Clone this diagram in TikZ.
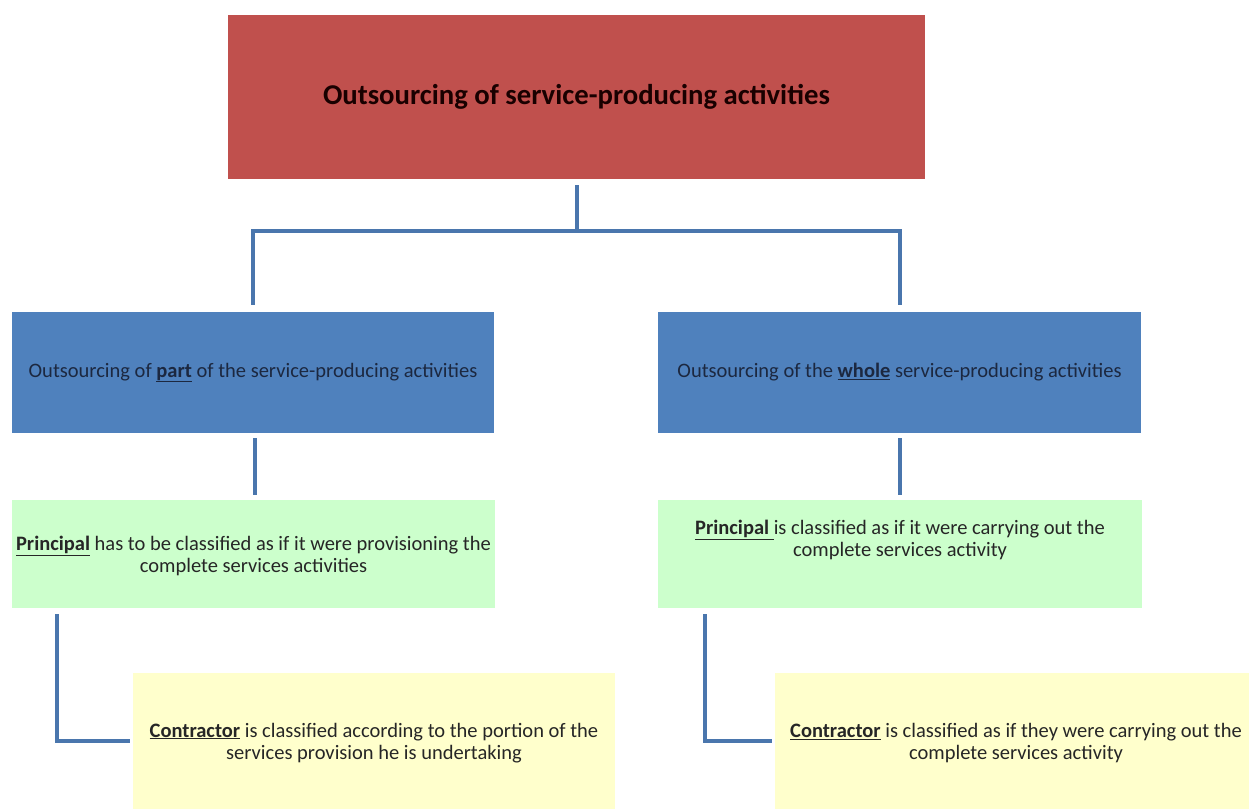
\documentclass[tikz,border=0pt]{standalone}
\usepackage{fontspec}
\setmainfont{Carlito}
\definecolor{redbox}{HTML}{C0504D}
\definecolor{bluebox}{HTML}{4F81BD}
\definecolor{greenbox}{HTML}{CCFFCC}
\definecolor{yellowbox}{HTML}{FFFFCC}
\definecolor{connc}{HTML}{4A76AD}
\definecolor{navytext}{HTML}{1C2840}
\begin{document}
\begin{tikzpicture}[x=1pt,y=-1pt,
  box/.style={rectangle, inner sep=0pt, align=center, font=\fontsize{20.5}{23}\selectfont},
  txt/.style={text=black!85, align=center, inner sep=0pt, font=\fontsize{20.5}{22.5}\selectfont},
  conn/.style={draw=connc, line width=4pt}]
\useasboundingbox (0,0) rectangle (1250,809);
\fill[white] (0,0) rectangle (1250,809);
\node[box, fill=redbox, minimum width=697pt, minimum height=164pt, font=\bfseries\fontsize{28.7}{32}\selectfont, text=black!90!red] (top) at (576.5,97) {Outsourcing of service-producing activities};
\node[box, fill=bluebox, minimum width=482pt, minimum height=121pt, text=navytext] (bl) at (253,372.5) {Outsourcing of \underline{\textbf{part}} of the service-producing activities};
\node[box, fill=bluebox, minimum width=483pt, minimum height=121pt, text=navytext] (br) at (899.5,372.5) {Outsourcing of the \underline{\textbf{whole}} service-producing activities};
\node[box, fill=greenbox, minimum width=483pt, minimum height=108pt] (gl) at (253.5,554) {};
\node[txt] (glt) at (253.5,556) {\underline{\textbf{Principal}} has to be classified as if it were provisioning the\\complete services activities};
\node[box, fill=greenbox, minimum width=484pt, minimum height=108pt] (gr) at (900,554) {};
\node[txt] (grt) at (900,540) {\underline{\textbf{Principal }}is classified as if it were carrying out the\\complete services activity};
\node[box, fill=yellowbox, minimum width=482pt, minimum height=136pt] (yl) at (374,741) {};
\node[txt] (ylt) at (374,743) {\underline{\textbf{Contractor}} is classified according to the portion of the\\services provision he is undertaking};
\node[box, fill=yellowbox, minimum width=474pt, minimum height=136pt] (yr) at (1012,741) {};
\node[txt] (yrt) at (1016,743) {\underline{\textbf{Contractor}} is classified as if they were carrying out the\\complete services activity};
\coordinate (hj) at (576,231);
\coordinate (lx) at (57,0);
\coordinate (rx) at (705,0);
\coordinate (lm) at (255,0);
\coordinate (rm) at (900,0);
\draw[conn, shorten <=6pt] (top.south) -- (top.south |- hj);
\draw[conn, shorten <=7pt, shorten >=7pt, line join=miter] (bl.north) |- (hj) -| (br.north);
\draw[conn, shorten <=5pt, shorten >=5pt] (bl.south -| lm) -- (gl.north -| lm);
\draw[conn, shorten <=5pt, shorten >=5pt] (br.south -| rm) -- (gr.north -| rm);
\draw[conn, shorten <=6pt, shorten >=3pt, line join=miter] (gl.south -| lx) |- (yl.west);
\draw[conn, shorten <=6pt, shorten >=3pt, line join=miter] (gr.south -| rx) |- (yr.west);
\end{tikzpicture}
\end{document}
